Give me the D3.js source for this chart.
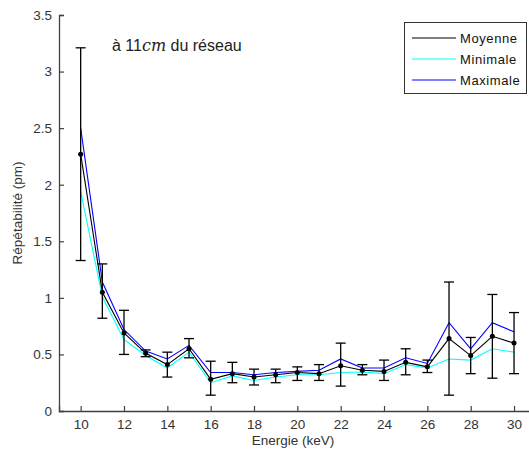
<!DOCTYPE html>
<html><head><meta charset="utf-8">
<script src="https://cdn.jsdelivr.net/npm/d3@7"></script>
<style>body{margin:0;background:#fff}svg{display:block}text{font-family:"Liberation Sans",Arial,sans-serif}</style>
</head><body>
<svg id="c" width="529" height="456"></svg>
<script>
const energies = [10,11,12,13,14,15,16,17,18,19,20,21,22,23,24,25,26,27,28,29,30];
const moyenne  = [2.27,1.05,0.69,0.51,0.41,0.55,0.28,0.33,0.30,0.32,0.34,0.33,0.40,0.36,0.35,0.43,0.39,0.64,0.49,0.66,0.60];
const minimale = [1.94,1.01,0.63,0.49,0.38,0.52,0.25,0.31,0.27,0.30,0.32,0.32,0.34,0.345,0.33,0.41,0.38,0.46,0.45,0.55,0.52];
const maximale = [2.50,1.14,0.72,0.53,0.46,0.58,0.34,0.34,0.32,0.34,0.35,0.36,0.46,0.38,0.38,0.47,0.42,0.78,0.55,0.78,0.70];
const errHigh  = [3.21,1.30,0.89,0.54,0.52,0.64,0.44,0.43,0.37,0.37,0.39,0.41,0.60,0.41,0.45,0.55,0.45,1.14,0.65,1.03,0.87];
const errLow   = [1.33,0.82,0.50,0.48,0.30,0.47,0.14,0.25,0.23,0.25,0.27,0.27,0.22,0.32,0.27,0.32,0.34,0.14,0.33,0.29,0.33];
const xTicks = [10,12,14,16,18,20,22,24,26,28,30];
const yTicks = [0,0.5,1,1.5,2,2.5,3,3.5];
const seriesNames = ["Moyenne","Minimale","Maximale"];
const seriesColors = ["#000000","#00ffff","#0000ff"];

const svg = d3.select("#c");
const x = d3.scaleLinear().domain([9,31]).range([59,535.7]);
const y = d3.scaleLinear().domain([0,3.5]).range([411,15]);
const axisCol = "#404040";

// axes
const xa = svg.append("g").attr("transform","translate(0,411)")
  .call(d3.axisBottom(x).tickValues(xTicks).tickSize(-5).tickPadding(8).tickFormat(d3.format("d")));
const ya = svg.append("g").attr("transform","translate(59,0)")
  .call(d3.axisLeft(y).tickValues(yTicks).tickSize(-5).tickPadding(7).tickFormat(d=>String(d)));
[xa,ya].forEach(g=>{
  g.select(".domain").attr("stroke",axisCol).attr("stroke-width",1.3);
  g.selectAll(".tick line").attr("stroke",axisCol).attr("stroke-width",1.2);
  g.selectAll(".tick text").attr("fill","#333").attr("font-size",13.5);
});

// lines
const vals = [moyenne,minimale,maximale];
const line = d3.line().x((d,i)=>x(energies[i])).y(d=>y(d));
[1,2,0].forEach(k=>{
  svg.append("path").datum(vals[k]).attr("d",line).attr("fill","none")
    .attr("stroke",seriesColors[k]).attr("stroke-width",1.1);
});

// error bars
const eb = svg.append("g").attr("stroke","#000").attr("stroke-width",1.3);
energies.forEach((e,i)=>{
  const cx = x(e);
  eb.append("line").attr("x1",cx).attr("x2",cx).attr("y1",y(errLow[i])).attr("y2",y(errHigh[i]));
  eb.append("line").attr("x1",cx-5).attr("x2",cx+5).attr("y1",y(errLow[i])).attr("y2",y(errLow[i]));
  eb.append("line").attr("x1",cx-5).attr("x2",cx+5).attr("y1",y(errHigh[i])).attr("y2",y(errHigh[i]));
});
svg.append("g").selectAll("circle").data(moyenne).join("circle")
  .attr("cx",(d,i)=>x(energies[i])).attr("cy",d=>y(d)).attr("r",2.5).attr("fill","#000");

// labels
svg.append("text").attr("x",293).attr("y",445).attr("text-anchor","middle")
  .attr("font-size",13.5).attr("fill","#333").text("Energie (keV)");
svg.append("text").attr("transform","translate(22,213) rotate(-90)").attr("text-anchor","middle")
  .attr("font-size",13.5).attr("fill","#333").text("Répétabilité (pm)");

// annotation
const ann = svg.append("text").attr("x",112).attr("y",51).attr("font-size",16).attr("fill","#222")
  .attr("font-family","'Open Sans','Liberation Sans',sans-serif");
ann.append("tspan").text("à 11");
ann.append("tspan").attr("font-style","italic").attr("font-family","'DejaVu Serif',serif").text("cm");
ann.append("tspan").text(" du réseau");

// legend
const lg = svg.append("g");
lg.append("rect").attr("x",404.5).attr("y",22.5).attr("width",122).attr("height",71)
  .attr("fill","#fff").attr("stroke","#333").attr("stroke-width",1);
seriesNames.forEach((n,i)=>{
  const ly = 38 + i*21;
  lg.append("line").attr("x1",412).attr("x2",456).attr("y1",ly).attr("y2",ly)
    .attr("stroke",seriesColors[i]).attr("stroke-width",1.1);
  lg.append("text").attr("x",460).attr("y",ly+4.5).attr("font-size",13).attr("letter-spacing",0.6)
    .attr("fill","#111").text(n);
});
</script>
</body></html>
